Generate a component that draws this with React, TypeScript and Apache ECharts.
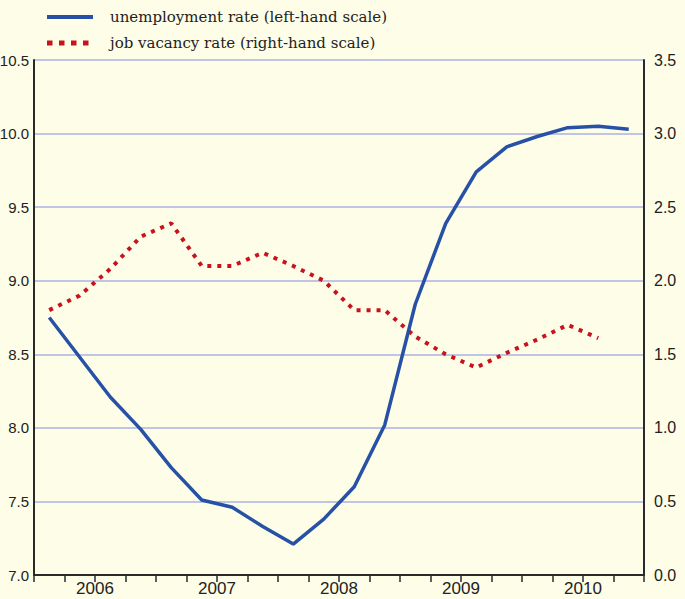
import React, { useEffect, useRef } from "react";
import * as echarts from "echarts";

const quarters = [
  "2006Q1", "2006Q2", "2006Q3", "2006Q4",
  "2007Q1", "2007Q2", "2007Q3", "2007Q4",
  "2008Q1", "2008Q2", "2008Q3", "2008Q4",
  "2009Q1", "2009Q2", "2009Q3", "2009Q4",
  "2010Q1", "2010Q2", "2010Q3", "2010Q4",
];
const years = ["2006", "2007", "2008", "2009", "2010"];
const leftTicks = { min: 7, max: 10.5, interval: 0.5 };
const rightTicks = { min: 0, max: 3.5, interval: 0.5 };

const unemployment = [
  8.75, 8.48, 8.21, 7.99, 7.73, 7.51, 7.46, 7.33, 7.21, 7.38,
  7.6, 8.02, 8.84, 9.39, 9.74, 9.91, 9.98, 10.04, 10.05, 10.03,
];
const vacancy = [
  1.8, 1.9, 2.08, 2.3, 2.39, 2.1, 2.1, 2.19, 2.1, 2.0,
  1.8, 1.8, 1.62, 1.5, 1.41, 1.51, 1.6, 1.7, 1.61, null,
];

const seriesNames = [
  "unemployment rate (left-hand scale)",
  "job vacancy rate (right-hand scale)",
];

const BLUE = "#2651a6";
const RED = "#c8121c";
const GRID = "#aab2e0";
const AXIS = "#2a2a2a";
const BG = "#fefde8";
const LABEL_FONT = "'Liberation Sans', Arial, sans-serif";
const SERIF = "'DejaVu Serif', serif";

export default function App() {
  const ref = useRef<HTMLDivElement>(null);
  useEffect(() => {
    if (!ref.current) return;
    const chart = echarts.init(ref.current, undefined, { renderer: "svg" });
    chart.setOption({
      animation: false,
      backgroundColor: BG,
      grid: {
        left: 34,
        right: 41,
        top: 60,
        bottom: 24,
        containLabel: false,
        outerBoundsMode: "none",
      },
      xAxis: [
        {
          type: "category",
          data: quarters,
          boundaryGap: true,
          axisLine: { show: true, lineStyle: { color: AXIS, width: 2 } },
          axisTick: { show: true, interval: 0, length: 7, lineStyle: { color: AXIS, width: 1.5 } },
          axisLabel: { show: false },
          splitLine: { show: false },
        },
        {
          type: "category",
          data: years,
          position: "bottom",
          boundaryGap: true,
          axisLine: { show: false },
          axisTick: { show: false },
          axisLabel: { show: true, margin: 5, color: "#222", fontFamily: LABEL_FONT, fontSize: 17 },
          splitLine: { show: false },
        },
      ],
      yAxis: [
        {
          type: "value",
          position: "left",
          ...leftTicks,
          axisLine: { show: true, lineStyle: { color: AXIS, width: 2 } },
          axisTick: { show: false },
          axisLabel: {
            margin: 5,
            color: "#222",
            fontFamily: LABEL_FONT,
            fontSize: 15,
            formatter: (v: number) => v.toFixed(1),
          },
          splitLine: { show: true, lineStyle: { color: GRID, width: 1.5 } },
        },
        {
          type: "value",
          position: "right",
          ...rightTicks,
          axisLine: { show: true, lineStyle: { color: AXIS, width: 2 } },
          axisTick: { show: false },
          axisLabel: {
            margin: 10,
            color: "#222",
            fontFamily: LABEL_FONT,
            fontSize: 16,
            formatter: (v: number) => v.toFixed(1),
          },
          splitLine: { show: false },
        },
      ],
      series: [
        {
          name: seriesNames[0],
          type: "line",
          xAxisIndex: 0,
          yAxisIndex: 0,
          data: unemployment,
          showSymbol: false,
          symbol: "none",
          lineStyle: { color: BLUE, width: 3.5 },
          z: 3,
        },
        {
          name: seriesNames[1],
          type: "line",
          xAxisIndex: 0,
          yAxisIndex: 1,
          data: vacancy,
          showSymbol: false,
          symbol: "none",
          lineStyle: { color: RED, width: 4, type: [4, 6], cap: "butt" },
          z: 2,
        },
      ],
      graphic: [
        {
          type: "line",
          shape: { x1: 47, y1: 17, x2: 93, y2: 17 },
          style: { stroke: BLUE, lineWidth: 4 },
        },
        {
          type: "line",
          shape: { x1: 47, y1: 43, x2: 90, y2: 43 },
          style: { stroke: RED, lineWidth: 5, lineDash: [5.5, 6.5] },
        },
        {
          type: "text",
          x: 110,
          y: 17,
          style: {
            text: seriesNames[0],
            fill: "#222",
            font: `15px ${SERIF}`,
            verticalAlign: "middle",
          },
        },
        {
          type: "text",
          x: 110,
          y: 43,
          style: {
            text: seriesNames[1],
            fill: "#222",
            font: `15px ${SERIF}`,
            verticalAlign: "middle",
          },
        },
      ],
    });
    return () => chart.dispose();
  }, []);
  return (
    <div
      ref={ref}
      style={{ position: "fixed", left: 0, top: 0, width: 685, height: 599 }}
    />
  );
}
